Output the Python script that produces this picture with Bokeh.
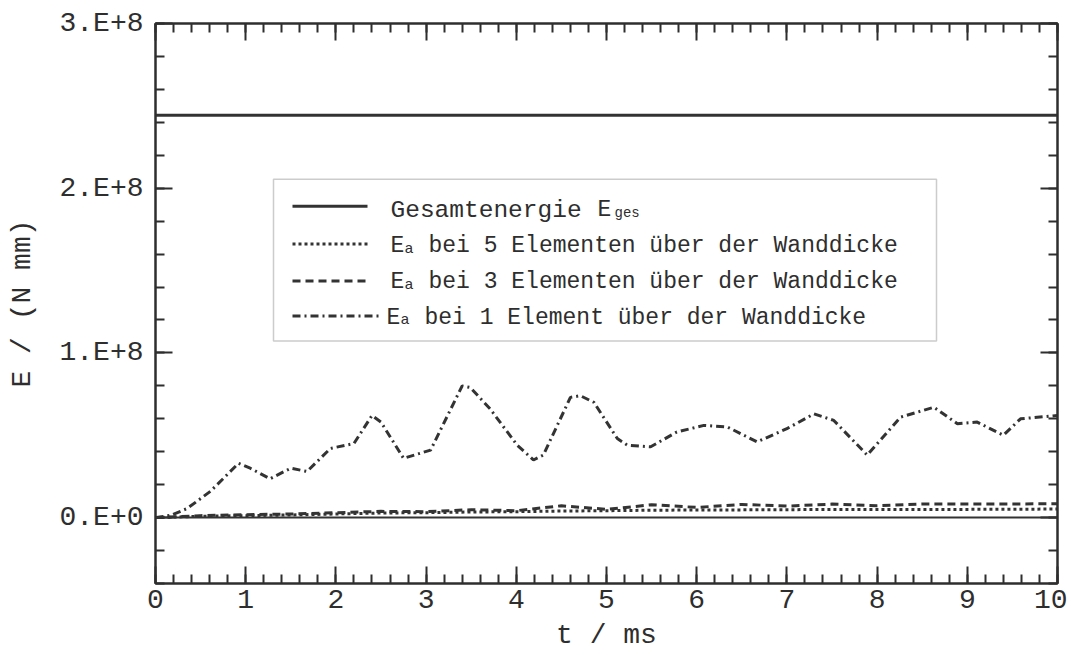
from bokeh.plotting import figure
from bokeh.models import (Range1d, SingleIntervalTicker, LinearAxis, CustomJSTickFormatter,
                          Span, BoxAnnotation, Label)
from bokeh.embed import file_html
from bokeh.resources import INLINE

# ---------------- data (energies in N mm, time in ms) ----------------
t_ges = [0.0, 10.0]
e_ges = [2.443e8, 2.443e8]

t_5el = [0, 0.5, 1, 1.5, 2, 2.5, 3, 3.5, 4, 4.5, 5, 5.5, 6, 6.5, 7, 7.5, 8, 8.5, 9, 9.5, 10]
e_5el = [0.0, 0.008e8, 0.012e8, 0.016e8, 0.022e8, 0.028e8, 0.030e8, 0.034e8, 0.036e8, 0.040e8,
         0.042e8, 0.045e8, 0.046e8, 0.047e8, 0.048e8, 0.050e8, 0.050e8, 0.050e8, 0.050e8,
         0.051e8, 0.052e8]

t_3el = [0, 0.5, 1, 1.5, 2, 2.5, 3, 3.5, 4, 4.5, 5, 5.5, 6, 6.5, 7, 7.5, 8, 8.5, 9, 9.5, 10]
e_3el = [0.0, 0.012e8, 0.018e8, 0.022e8, 0.030e8, 0.038e8, 0.036e8, 0.048e8, 0.042e8, 0.072e8,
         0.050e8, 0.078e8, 0.062e8, 0.080e8, 0.070e8, 0.082e8, 0.072e8, 0.083e8, 0.082e8,
         0.083e8, 0.084e8]

t_1el = [0, 0.17, 0.35, 0.61, 0.92, 1.05, 1.27, 1.5, 1.68, 1.94, 2.2, 2.4, 2.5, 2.75, 3.05,
         3.4, 3.49, 3.71, 4.01, 4.19, 4.30, 4.60, 4.71, 4.86, 5.12, 5.23, 5.49, 5.78, 6.08,
         6.34, 6.67, 7.0, 7.30, 7.52, 7.89, 8.26, 8.63, 8.89, 9.11, 9.40, 9.59, 10]
e_1el = [0.0, 0.014e8, 0.055e8, 0.16e8, 0.33e8, 0.30e8, 0.236e8, 0.30e8, 0.28e8, 0.42e8,
         0.45e8, 0.62e8, 0.58e8, 0.36e8, 0.41e8, 0.80e8, 0.79e8, 0.66e8, 0.44e8, 0.35e8,
         0.38e8, 0.73e8, 0.74e8, 0.70e8, 0.48e8, 0.44e8, 0.43e8, 0.52e8, 0.56e8, 0.55e8,
         0.46e8, 0.54e8, 0.63e8, 0.59e8, 0.38e8, 0.61e8, 0.67e8, 0.57e8, 0.58e8, 0.50e8,
         0.60e8, 0.62e8]

x_label = "t / ms"
y_label = "E / (N mm)"
legend_main = ["Gesamtenergie",
               "bei 5 Elementen über der Wanddicke",
               "bei 3 Elementen über der Wanddicke",
               "bei 1 Element über der Wanddicke"]
legend_sub = ["ges", "a", "a", "a"]

# ---------------- style ----------------
FONT = "Liberation Mono"
INK = "#2e2e2e"
LINE = "#333333"

p = figure(width=1067, height=653, output_backend="svg", toolbar_location=None,
           x_range=Range1d(0, 10), y_range=Range1d(-0.4e8, 3.0e8),
           min_border_left=155, min_border_right=10, min_border_top=23, min_border_bottom=67)
p.xgrid.visible = False
p.ygrid.visible = False
p.outline_line_color = INK
p.outline_line_width = 2
p.background_fill_color = "white"
p.border_fill_color = "white"

xt = SingleIntervalTicker(interval=1, num_minor_ticks=5)
yt = SingleIntervalTicker(interval=1e8, num_minor_ticks=5)
yfmt = CustomJSTickFormatter(code="if (Math.abs(tick) < 1) {return '0.E+0';} return Math.round(tick/1e8) + '.E+8';")
blank = CustomJSTickFormatter(code="return '';")


def style(ax, ticker, labels=True):
    ax.ticker = ticker
    ax.major_tick_in = 17
    ax.major_tick_out = 0
    ax.minor_tick_in = 9
    ax.minor_tick_out = 0
    ax.axis_line_color = INK
    ax.axis_line_width = 2
    ax.major_tick_line_color = INK
    ax.major_tick_line_width = 2
    ax.minor_tick_line_color = INK
    ax.minor_tick_line_width = 2
    ax.major_label_text_font = FONT
    ax.major_label_text_color = INK
    ax.axis_label_text_font = FONT
    ax.axis_label_text_color = INK
    ax.axis_label_text_font_style = "normal"
    if labels:
        ax.major_label_text_font_size = "28px"
        ax.axis_label_text_font_size = "28px"
    else:
        ax.formatter = blank
        ax.major_label_text_font_size = "1px"
        ax.major_label_standoff = 0


style(p.xaxis[0], xt)
p.xaxis[0].major_label_standoff = 6
p.xaxis[0].axis_label = x_label
p.xaxis[0].axis_label_standoff = 9

style(p.yaxis[0], yt)
p.yaxis[0].formatter = yfmt
p.yaxis[0].major_label_standoff = 12
p.yaxis[0].major_label_orientation = "horizontal"
p.yaxis[0].axis_label = y_label
p.yaxis[0].axis_label_standoff = 18

top_ax = LinearAxis()
style(top_ax, SingleIntervalTicker(interval=1, num_minor_ticks=5), labels=False)
p.add_layout(top_ax, "above")
right_ax = LinearAxis()
style(right_ax, SingleIntervalTicker(interval=1e8, num_minor_ticks=5), labels=False)
p.add_layout(right_ax, "right")

# ---------------- series ----------------
p.add_layout(Span(location=0, dimension="width", line_color=LINE, line_width=2))
p.line(t_ges, e_ges, line_color=LINE, line_width=3)
p.line(t_5el, e_5el, line_color=LINE, line_width=3, line_dash="3 3")
p.line(t_3el, e_3el, line_color=LINE, line_width=3, line_dash="8 5")
p.line(t_1el, e_1el, line_color=LINE, line_width=3, line_dash="8 4 2 4")


# ---------------- legend (drawn by hand because of subscripts) ----------------
def px2x(px):
    return (px - 155) / 90.2


def py2y(py):
    return (519 - py) / 165 * 1e8


p.add_layout(BoxAnnotation(left=px2x(273), right=px2x(936), top=py2y(180), bottom=py2y(342),
                           fill_color="white", fill_alpha=1, line_color="#555555", line_width=1.5,
                           level="underlay"))

row_base = [215, 251, 287, 323]
sample_y = [207, 245, 282, 317]
dashes = ["solid", "3 3", "8 5", "8 4 2 4"]
sample_end = [367, 367, 367, 378]
text_start = [390, 390, 390, 386]
for i in range(4):
    yb = row_base[i] - 4
    p.line([px2x(292), px2x(sample_end[i])], [py2y(sample_y[i]), py2y(sample_y[i])],
           line_color=LINE, line_width=3, line_dash=dashes[i])
    x0 = text_start[i]
    if i == 0:
        p.add_layout(Label(x=px2x(x0), y=py2y(yb), text=legend_main[0], text_font=FONT,
                           text_font_size="24.5px", text_color=INK, text_baseline="alphabetic"))
        p.add_layout(Label(x=px2x(x0 + 207), y=py2y(yb), text="E", text_font=FONT,
                           text_font_size="23px", text_color=INK, text_baseline="alphabetic"))
        p.add_layout(Label(x=px2x(x0 + 224), y=py2y(yb + 3), text=legend_sub[0], text_font=FONT,
                           text_font_size="14px", text_color=INK, text_baseline="alphabetic"))
    else:
        p.add_layout(Label(x=px2x(x0), y=py2y(yb), text="E", text_font=FONT,
                           text_font_size="23px", text_color=INK, text_baseline="alphabetic"))
        p.add_layout(Label(x=px2x(x0 + 14), y=py2y(yb + 3), text=legend_sub[i], text_font=FONT,
                           text_font_size="15px", text_color=INK, text_baseline="alphabetic"))
        p.add_layout(Label(x=px2x(x0 + 38), y=py2y(yb), text=legend_main[i], text_font=FONT,
                           text_font_size="23px", text_color=INK, text_baseline="alphabetic"))

open("out.html", "w").write(file_html(p, INLINE))
